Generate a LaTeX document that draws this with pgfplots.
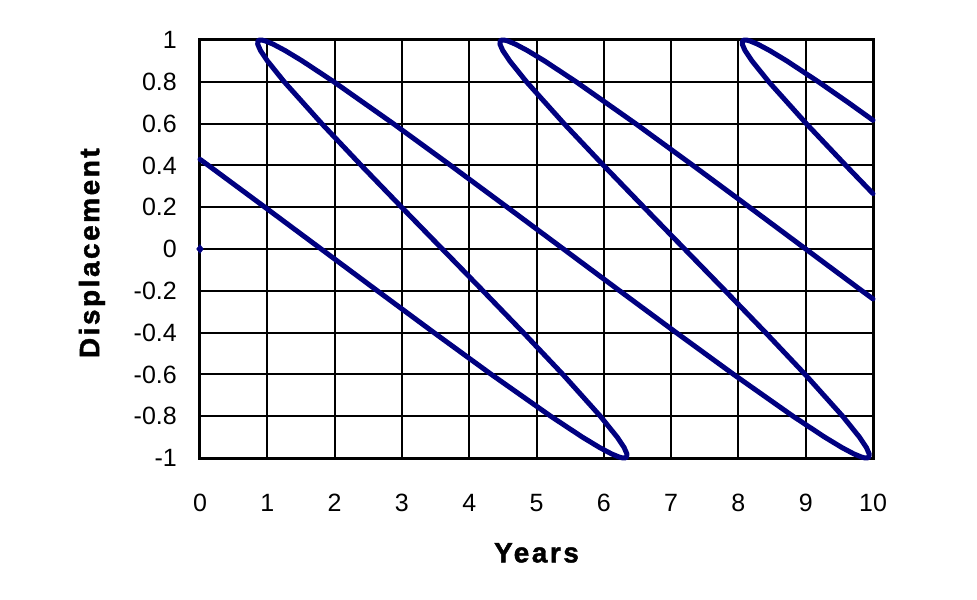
\documentclass[border=0pt]{standalone}
\usepackage{pgfplots}
\pgfplotsset{compat=1.18}
\usepackage{fontspec}
\setmainfont{Liberation Sans}
\newfontfamily\labfont[LetterSpace=9,FakeBold=1.5]{Liberation Sans Bold}
\definecolor{navyline}{RGB}{0,0,128}
\begin{document}
\begin{tikzpicture}
\path[use as bounding box] (-200bp,-142bp) rectangle (777bp,458bp);
\begin{axis}[
  at={(0,0)}, anchor=south west,
  scale only axis, width=673bp, height=418bp,
  xmin=0, xmax=10, ymin=-1, ymax=1,
  clip=false,
  xtick={0,1,2,3,4,5,6,7,8,9,10},
  xticklabels={0,1,2,3,4,5,6,7,8,9,10},
  ytick={-1,-0.8,-0.6,-0.4,-0.2,0,0.2,0.4,0.6,0.8,1},
  yticklabels={-1,-0.8,-0.6,-0.4,-0.2,0,0.2,0.4,0.6,0.8,1},
  major tick length=0pt,
  grid=major,
  major grid style={black, line width=2bp},
  axis line style={black, line width=3bp},
  ticklabel style={font=\fontsize{25bp}{29bp}\selectfont},
  xticklabel style={anchor=base, inner sep=0pt, yshift=-53bp},
  yticklabel style={anchor=east, inner sep=0pt, xshift=-23bp},
  xlabel={\labfont Years},
  ylabel={\labfont Displacement},
  xlabel style={at={(axis description cs:0.5,-0.227)}, anchor=center, font=\fontsize{28bp}{32bp}\selectfont},
  ylabel style={at={(axis description cs:-0.1605,0.49)}, anchor=center, rotate=0, font=\fontsize{28bp}{32bp}\selectfont},
]
\addplot[navyline, line width=5bp, line join=round, line cap=round] coordinates {
(0,0.429) (0.1242,0.4) (0.9646,0.2) (1.8,0) (2.6354,-0.2) (3.4758,-0.4) (4.3287,-0.6) (5.2113,-0.8) (5.6816,-0.9) (5.938,-0.95) (6.1132,-0.98) (6.2246,-0.995) (6.2708,-0.999) (6.3,-1)
(6.322,-0.999) (6.3394,-0.995) (6.3428,-0.98) (6.302,-0.95) (6.1984,-0.9) (5.9487,-0.8) (5.3913,-0.6) (4.8042,-0.4) (4.2046,-0.2) (3.6,0) (2.9954,0.2) (2.3958,0.4) (1.8087,0.6) (1.2513,0.8) (1.0016,0.9) (0.898,0.95) (0.8572,0.98) (0.8606,0.995) (0.878,0.999) (0.9,1)
(0.9292,0.999) (0.9754,0.995) (1.0868,0.98) (1.262,0.95) (1.5184,0.9) (1.9887,0.8) (2.8713,0.6) (3.7242,0.4) (4.5646,0.2) (5.4,0) (6.2354,-0.2) (7.0758,-0.4) (7.9287,-0.6) (8.8113,-0.8) (9.2816,-0.9) (9.538,-0.95) (9.7132,-0.98) (9.8246,-0.995) (9.8708,-0.999) (9.9,-1)
(9.922,-0.999) (9.9394,-0.995) (9.9428,-0.98) (9.902,-0.95) (9.7984,-0.9) (9.5487,-0.8) (8.9913,-0.6) (8.4042,-0.4) (7.8046,-0.2) (7.2,0) (6.5954,0.2) (5.9958,0.4) (5.4087,0.6) (4.8513,0.8) (4.6016,0.9) (4.498,0.95) (4.4572,0.98) (4.4606,0.995) (4.478,0.999) (4.5,1)
(4.5292,0.999) (4.5754,0.995) (4.6868,0.98) (4.862,0.95) (5.1184,0.9) (5.5887,0.8) (6.4713,0.6) (7.3242,0.4) (8.1646,0.2) (9.0,0) (9.8354,-0.2) (10,-0.239)
};
\addplot[navyline, line width=5bp, line join=round, line cap=round] coordinates {
(10,0.265) (9.5958,0.4) (9.0087,0.6) (8.4513,0.8) (8.2016,0.9) (8.098,0.95) (8.0572,0.98) (8.0606,0.995) (8.078,0.999) (8.1,1)
(8.1292,0.999) (8.1754,0.995) (8.2868,0.98) (8.462,0.95) (8.7184,0.9) (9.1887,0.8) (9.6357,0.7) (10,0.616)
};
\addplot[navyline, only marks, mark=diamond*, mark size=4.5bp, mark options={fill=navyline, draw=navyline}] coordinates {(0,0)};
\end{axis}
\end{tikzpicture}
\end{document}
